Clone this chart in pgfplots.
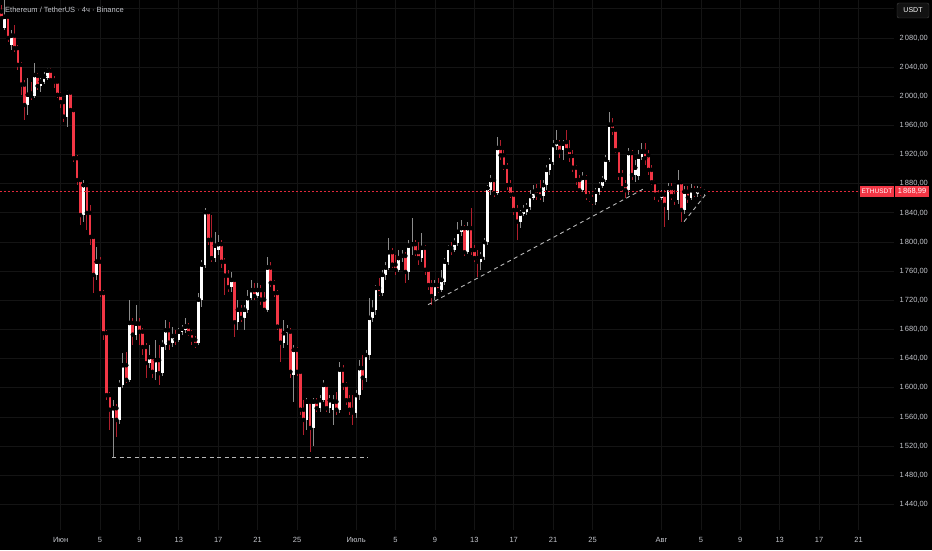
\documentclass[border=0pt]{standalone}
\usepackage{pgfplots}
\pgfplotsset{compat=1.18}
\usepackage{pgfplotstable}
\usepackage{fontspec}
\setmainfont{Liberation Sans}
\definecolor{bear}{HTML}{F23645}
\definecolor{bearwick}{HTML}{B01E2C}
\definecolor{bull}{HTML}{FFFFFF}
\definecolor{bullwick}{HTML}{8C8C8C}
\definecolor{gridc}{HTML}{141414}
\definecolor{txt}{HTML}{C4C6CC}
\definecolor{dashc}{HTML}{B8B8B8}
\definecolor{pline}{HTML}{E0293A}

\pgfplotstableread{
x o h l c
-6.00 2116 2125 2105 2107
-5.67 2094 2132 2091 2109
-5.33 2109 2112 2075 2080
-5.00 2070 2091 2064 2083
-4.67 2083 2098 2061 2066
-4.33 2066 2070 2036 2043
-4.00 2043 2047 2002 2016
-3.67 2016 2022 1967 1988
-3.33 1988 2025 1974 2002
-3.00 2004 2020 1995 2000
-2.67 2000 2046 1998 2029
-2.33 2028 2032 2009 2014
-2.00 2014 2025 2006 2020
-1.67 2020 2033 2017 2027
-1.33 2025 2039 2022 2035
-1.00 2035 2039 2020 2022
-0.67 2022 2028 2011 2020
-0.33 2020 2022 1998 2002
0.00 2002 2006 1984 1992
0.33 1992 1995 1965 1972
0.67 1972 2009 1958 2005
1.00 2005 2007 1978 1981
1.33 1981 1984 1910 1915
1.67 1915 1919 1878 1885
2.00 1885 1888 1823 1837
2.33 1837 1885 1828 1878
2.67 1878 1881 1817 1840
3.00 1840 1851 1796 1807
3.33 1807 1810 1730 1755
3.67 1755 1793 1748 1773
4.00 1773 1780 1725 1730
4.33 1730 1734 1666 1675
4.67 1675 1679 1583 1590
5.00 1590 1594 1542 1570
5.33 1559 1583 1505 1572
5.67 1572 1578 1533 1556
6.00 1556 1611 1550 1604
6.33 1604 1648 1600 1631
6.67 1631 1649 1607 1611
7.00 1611 1721 1608 1689
7.33 1689 1696 1659 1673
7.67 1673 1714 1666 1688
8.00 1688 1696 1659 1677
8.33 1677 1682 1645 1656
8.67 1656 1662 1614 1634
9.00 1634 1659 1627 1642
9.33 1642 1645 1614 1622
9.67 1622 1666 1611 1638
10.00 1638 1659 1604 1620
10.33 1620 1666 1616 1659
10.67 1659 1693 1652 1679
11.00 1679 1690 1652 1662
11.33 1662 1684 1656 1671
11.67 1671 1679 1659 1666
12.00 1666 1682 1663 1677
12.33 1677 1686 1673 1681
12.67 1679 1696 1675 1684
13.00 1684 1689 1671 1675
13.33 1675 1679 1659 1666
13.67 1666 1671 1655 1659
14.00 1662 1730 1659 1721
14.33 1721 1775 1711 1769
14.67 1769 1847 1765 1841
15.00 1841 1844 1796 1803
15.33 1803 1837 1773 1778
15.67 1778 1814 1773 1795
16.00 1789 1810 1782 1797
16.33 1797 1803 1765 1773
16.67 1773 1778 1727 1754
17.00 1754 1762 1732 1738
17.33 1738 1759 1732 1748
17.67 1748 1751 1670 1690
18.00 1690 1721 1679 1707
18.33 1707 1714 1690 1696
18.67 1696 1714 1679 1707
19.00 1707 1734 1703 1723
19.33 1723 1748 1721 1734
19.67 1734 1744 1721 1726
20.00 1726 1744 1723 1734
20.33 1734 1741 1714 1721
20.67 1721 1732 1704 1707
21.00 1707 1780 1704 1765
21.33 1765 1773 1738 1744
21.67 1744 1748 1725 1730
22.00 1730 1734 1679 1684
22.33 1684 1686 1636 1662
22.67 1662 1693 1655 1675
23.00 1675 1686 1659 1679
23.33 1677 1682 1614 1622
23.67 1618 1659 1581 1652
24.00 1652 1656 1616 1622
24.33 1622 1625 1563 1570
24.67 1570 1583 1535 1556
25.00 1556 1586 1542 1581
25.33 1581 1583 1512 1545
25.67 1545 1586 1520 1581
26.00 1581 1586 1567 1572
26.33 1572 1590 1567 1583
26.67 1583 1611 1581 1604
27.00 1604 1607 1567 1572
27.33 1572 1590 1566 1583
27.67 1570 1590 1549 1581
28.00 1581 1594 1563 1570
28.33 1570 1636 1566 1625
28.67 1625 1631 1597 1604
29.00 1604 1608 1577 1583
29.33 1583 1590 1563 1570
29.67 1570 1590 1549 1566
30.00 1566 1597 1559 1590
30.33 1590 1638 1583 1627
30.67 1627 1645 1597 1614
31.00 1614 1652 1608 1645
31.33 1645 1723 1638 1696
31.67 1696 1721 1690 1707
32.00 1707 1741 1700 1737
32.33 1737 1751 1726 1730
32.67 1730 1762 1726 1755
33.00 1755 1773 1748 1765
33.33 1765 1806 1762 1786
33.67 1786 1792 1765 1769
34.00 1769 1782 1755 1762
34.33 1762 1789 1759 1778
34.67 1778 1789 1773 1781
35.00 1781 1786 1744 1759
35.33 1759 1803 1748 1795
35.67 1795 1833 1782 1797
36.00 1797 1803 1781 1786
36.33 1786 1800 1769 1778
36.67 1778 1813 1773 1792
37.00 1792 1796 1755 1762
37.33 1762 1765 1734 1741
37.67 1741 1748 1714 1726
38.00 1726 1748 1721 1741
38.33 1741 1751 1730 1734
38.67 1734 1762 1732 1748
39.00 1745 1778 1741 1773
39.33 1773 1796 1769 1792
39.67 1792 1800 1782 1789
40.00 1789 1806 1786 1799
40.33 1799 1828 1795 1814
40.67 1814 1830 1808 1819
41.00 1819 1823 1781 1786
41.33 1786 1828 1784 1819
41.67 1819 1847 1782 1789
42.00 1789 1796 1773 1778
42.33 1778 1789 1752 1773
42.67 1773 1786 1762 1780
43.00 1780 1806 1775 1800
43.33 1800 1878 1796 1874
43.67 1871 1892 1865 1885
44.00 1885 1888 1862 1867
44.33 1867 1944 1865 1929
44.67 1929 1940 1913 1919
45.00 1919 1926 1899 1903
45.33 1903 1908 1871 1878
45.67 1878 1885 1861 1865
46.00 1865 1869 1837 1844
46.33 1844 1851 1803 1828
46.67 1828 1844 1819 1839
47.00 1839 1851 1836 1844
47.33 1841 1854 1837 1848
47.67 1848 1871 1844 1863
48.00 1861 1878 1858 1869
48.33 1871 1880 1858 1865
48.67 1871 1885 1858 1863
49.00 1863 1885 1855 1878
49.33 1878 1906 1871 1899
49.67 1899 1915 1892 1910
50.00 1910 1940 1906 1933
50.33 1932 1954 1926 1937
50.67 1935 1940 1915 1924
51.00 1926 1940 1913 1935
51.33 1937 1954 1924 1926
51.67 1926 1940 1910 1918
52.00 1918 1926 1896 1902
52.33 1902 1906 1878 1885
52.67 1885 1892 1869 1871
53.00 1871 1896 1869 1888
53.33 1888 1892 1858 1863
53.67 1863 1869 1855 1859
54.00 1859 1865 1851 1855
54.33 1855 1874 1851 1869
54.67 1869 1882 1865 1877
55.00 1877 1891 1874 1885
55.33 1885 1919 1882 1913
55.67 1913 1978 1910 1961
56.00 1961 1970 1947 1954
56.33 1954 1956 1922 1926
56.67 1926 1929 1885 1892
57.00 1892 1899 1869 1874
57.33 1878 1885 1861 1871
57.67 1871 1929 1865 1922
58.00 1922 1926 1885 1892
58.33 1892 1913 1882 1902
58.67 1891 1926 1885 1917
59.00 1917 1936 1913 1924
59.33 1924 1936 1906 1915
59.67 1919 1926 1892 1899
60.00 1899 1906 1878 1882
60.33 1882 1885 1858 1865
60.67 1865 1871 1855 1861
61.00 1861 1871 1858 1865
61.33 1865 1871 1821 1851
61.67 1844 1881 1830 1874
62.00 1874 1881 1858 1863
62.33 1863 1871 1851 1858
62.67 1858 1899 1852 1882
63.00 1882 1885 1828 1844
63.33 1844 1877 1839 1869
63.67 1869 1877 1854 1861
64.00 1861 1880 1858 1871
64.33 1871 1877 1862 1866
64.67 1866 1877 1862 1871
65.00 1871 1876 1863 1867
65.33 1867 1873 1863 1868.99
}\candles

\begin{document}
\begin{tikzpicture}
\useasboundingbox (0pt,-20pt) rectangle (932pt,530pt);
\fill[black] (0pt,-20pt) rectangle (932pt,530pt);
\begin{axis}[
  at={(0pt,0pt)}, anchor=south west,
  scale only axis, width=894pt, height=530pt,
  xmin=-6.15, xmax=84.6, ymin=1405, ymax=2132,
  axis line style={draw=none},
  major tick length=0pt,
  xtick={0,4,8,12,16,20,24,30,34,38,42,46,50,54,61,65,69,73,77,81},
  xticklabels={Июн,5,9,13,17,21,25,Июль,5,9,13,17,21,25,Авг,5,9,13,17,21},
  ytick={1440,1480,1520,1560,1600,1640,1680,1720,1760,1800,1840,1880,1920,1960,2000,2040,2080},
  yticklabels={{1\,440,00},{1\,480,00},{1\,520,00},{1\,560,00},{1\,600,00},{1\,640,00},{1\,680,00},{1\,720,00},{1\,760,00},{1\,800,00},{1\,840,00},{1\,880,00},{1\,920,00},{1\,960,00},{2\,000,00},{2\,040,00},{2\,080,00}},
  extra y ticks={2120},
  extra y tick labels={},
  extra y tick style={grid=major, major grid style={gridc, line width=0.8pt}},
  yticklabel pos=right,
  grid=major,
  major grid style={gridc, line width=0.8pt},
  tick label style={font=\fontsize{7.5}{9}\selectfont, text=txt},
  yticklabel style={anchor=west, xshift=2pt},
  xticklabel style={anchor=north, yshift=-4pt},
  clip=true,
]
% wicks
\addplot[only marks, mark=none,
  x filter/.expression={\thisrow{c}>=\thisrow{o} ? x : nan},
  error bars/.cd, y dir=both, y explicit, error mark=none,
  error bar style={line width=0.9pt, bullwick, solid}]
  table[x=x, y=c, y error plus expr={\thisrow{h}-\thisrow{c}}, y error minus expr={\thisrow{c}-\thisrow{l}}] {\candles};
\addplot[only marks, mark=none,
  x filter/.expression={\thisrow{c}<\thisrow{o} ? x : nan},
  error bars/.cd, y dir=both, y explicit, error mark=none,
  error bar style={line width=0.9pt, bearwick, solid}]
  table[x=x, y=c, y error plus expr={\thisrow{h}-\thisrow{c}}, y error minus expr={\thisrow{c}-\thisrow{l}}] {\candles};
% bodies
\addplot[only marks, mark=none,
  x filter/.expression={\thisrow{c}>=\thisrow{o} ? x : nan},
  error bars/.cd, y dir=minus, y explicit, error mark=none,
  error bar style={line width=2.6pt, bull, solid}]
  table[x=x, y=c, y error minus expr={max(\thisrow{c}-\thisrow{o},1.2)}] {\candles};
\addplot[only marks, mark=none,
  x filter/.expression={\thisrow{c}<\thisrow{o} ? x : nan},
  error bars/.cd, y dir=minus, y explicit, error mark=none,
  error bar style={line width=2.6pt, bear, solid}]
  table[x=x, y=o, y error minus expr={max(\thisrow{o}-\thisrow{c},1.2)}] {\candles};
% price line
\addplot[draw=pline, color=pline, mark=none, line width=1.1pt, dash pattern=on 2pt off 2pt] coordinates {(-7,1868.99) (90,1868.99)};
% drawn dashed lines
\addplot[dashc, line width=0.9pt, dash pattern=on 4pt off 3.5pt] coordinates {(5.23,1505) (31.2,1505)};
\addplot[dashc, line width=0.9pt, dash pattern=on 4pt off 3.5pt] coordinates {(37.3,1714) (59.33,1874)};
\addplot[dashc, line width=0.9pt, dash pattern=on 4pt off 3.5pt] coordinates {(63.29,1828) (65.59,1867)};
\coordinate (pl) at (axis cs:84.6,1868.99);
\end{axis}
\node[fill=bear, text=white, font=\fontsize{6.5}{8}\selectfont, inner sep=1.5pt, anchor=east, minimum height=11pt] at (pl) {ETHUSDT};
\node[fill=bear, text=white, font=\fontsize{7.5}{9}\selectfont, inner sep=1.5pt, anchor=west, minimum height=11pt, minimum width=34pt, xshift=0.8pt] at (pl) {1\,868,99};
\node[draw={rgb,255:red,70;green,70;blue,70}, fill={rgb,255:red,18;green,18;blue,18}, rounded corners=2pt, text=white, font=\fontsize{7}{8}\selectfont, minimum width=32pt, minimum height=15pt, inner sep=1pt] at (913pt,519.5pt) {USDT};
\node[anchor=west, text=txt, font=\fontsize{7.5}{9}\selectfont, inner sep=0pt] at (5pt,520pt) {Ethereum / TetherUS · 4ч · Binance};
\end{tikzpicture}
\end{document}
